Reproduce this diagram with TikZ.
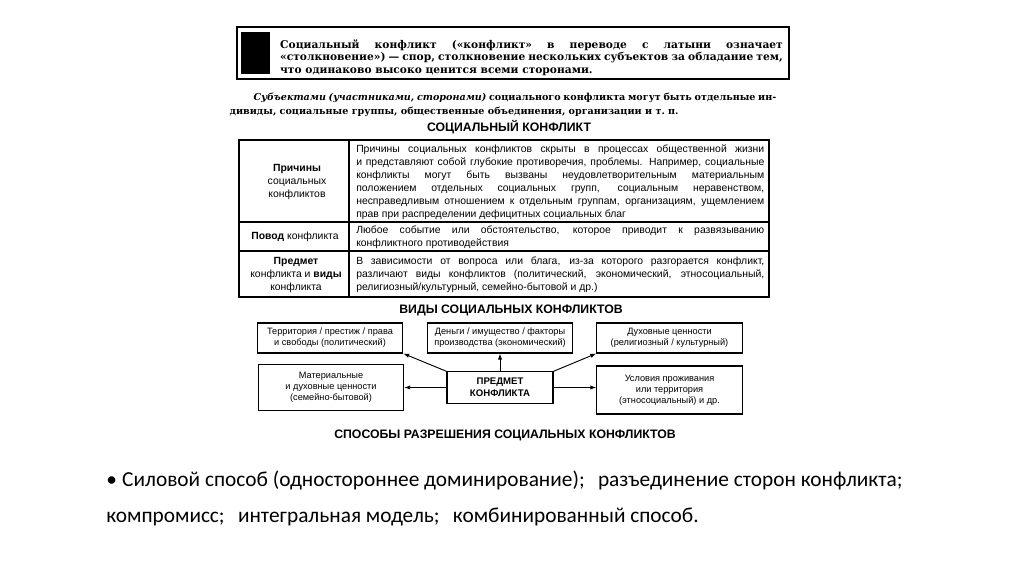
\documentclass[tikz,border=0pt]{standalone}
\usepackage{fontspec}
\setmainfont{Liberation Serif}
\setsansfont{Liberation Sans}
\newfontfamily\bookfont{DejaVu Serif}
\newfontfamily\slidefont{Carlito}
\usetikzlibrary{positioning, arrows.meta}

\begin{document}
\begin{tikzpicture}[x=0.75pt, y=-0.75pt,
    booktext/.style={font=\bookfont\fontsize{8}{9.4}\selectfont\bfseries, align=justify, inner sep=0pt},
    cellhead/.style={font=\sffamily\fontsize{7.8}{9.8}\selectfont, align=center, inner sep=0pt},
    celltext/.style={font=\sffamily\fontsize{7.8}{9.8}\selectfont, align=justify,
      text width=306pt, inner sep=0pt, anchor=west},
    heading/.style={font=\sffamily\bfseries\fontsize{9.2}{10}\selectfont, inner sep=0pt},
    kind/.style={draw, line width=0.8pt, font=\sffamily\fontsize{6.9}{8.2}\selectfont,
      align=center, inner sep=0pt, minimum width=109pt},
    arr/.style={-{Latex[length=4.5pt,width=3.2pt]}, line width=0.7pt},
  ]
  \fill[white] (0,0) rectangle (1024,574);
  \useasboundingbox (0,0) rectangle (1024,574);

  % definition box
  \draw[line width=1.5pt] (237,27) rectangle (789,79);
  \fill (241,32) rectangle (270,74);
  \node[booktext, text width=377pt] (deftext) at (531.5,57.5)
    {Социальный конфликт («конфликт» в~переводе с~латыни означает\linebreak
     «столкновение») — спор, столкновение нескольких субъектов за обладание тем,\linebreak
     что одинаково высоко ценится всеми сторонами.};
  \node[booktext, font=\bookfont\fontsize{7.2}{10.5}\selectfont\bfseries, text width=410pt] (subjects) at (503,105)
    {\hspace*{18pt}\textit{Субъектами (участниками, сторонами)} социального конфликта могут быть отдельные ин-\linebreak
     дивиды, социальные группы, общественные объединения, организации и~т.~п.};
  \node[heading] (title) at (509,127) {СОЦИАЛЬНЫЙ КОНФЛИКТ};

  % table
  \draw[line width=1.2pt] (239,140) rectangle (769,297);
  \draw[line width=0.8pt] (349,140) -- (349,297)
    (239,222) -- (769,222) (239,251) -- (769,251);
  \node[cellhead] (reasons) at (297,182) {\textbf{Причины}\\социальных\\конфликтов};
  \node[cellhead] (occasion) at (295,237) {\textbf{Повод} конфликта};
  \node[cellhead] (subject) at (296,275) {\textbf{Предмет}\\конфликта и \textbf{виды}\\конфликта};
  \node[celltext] (reasonstext) at (356,182)
    {Причины социальных конфликтов скрыты в процессах общественной жизни\linebreak
     и представляют собой глубокие противоречия, проблемы. Например, социальные\linebreak
     конфликты могут быть вызваны неудовлетворительным материальным\linebreak
     положением отдельных социальных групп, социальным неравенством,\linebreak
     несправедливым отношением к отдельным группам, организациям, ущемлением\linebreak
     прав при распределении дефицитных социальных благ};
  \node[celltext] (occasiontext) at (356,237)
    {Любое событие или обстоятельство, которое приводит к развязыванию\linebreak
     конфликтного противодействия};
  \node[celltext] (subjecttext) at (356,275)
    {В зависимости от вопроса или блага, из-за которого разгорается конфликт,\linebreak
     различают виды конфликтов (политический, экономический, этносоциальный,\linebreak
     религиозный/культурный, семейно-бытовой и др.)};

  % kinds of conflicts
  \node[heading] (kindstitle) at (511,310) {ВИДЫ СОЦИАЛЬНЫХ КОНФЛИКТОВ};
  \node[kind, minimum height=22.5pt] (political) at (330,338)
    {Территория / престиж / права\\и свободы (политический)};
  \node[kind, minimum height=22.5pt] (economic) at (500,338)
    {Деньги / имущество / факторы\\производства (экономический)};
  \node[kind, minimum height=22.5pt] (spiritual) at (669.5,338)
    {Духовные ценности\\(религиозный / культурный)};
  \node[kind, minimum height=34pt] (family) at (331,387.5)
    {Материальные\\и духовные ценности\\(семейно-бытовой)};
  \node[kind, minimum height=36pt] (ethnic) at (669.5,390)
    {Условия проживания\\или территория\\(этносоциальный) и др.};
  \node[kind, font=\sffamily\bfseries\fontsize{7.2}{9}\selectfont, minimum width=79.5pt,
    minimum height=23.5pt] (core) at (500,387.5) {ПРЕДМЕТ\\КОНФЛИКТА};
  \draw[arr] (core.north west) -- (political.south east);
  \draw[arr] (core.north) -- (economic.south);
  \draw[arr] (core.north east) -- (spiritual.south west);
  \draw[arr] (core.west) -- (family.east);
  \draw[arr] (core.east) -- (core.east -| ethnic.west);

  \node[heading] (waystitle) at (505,435) {СПОСОБЫ РАЗРЕШЕНИЯ СОЦИАЛЬНЫХ КОНФЛИКТОВ};

  % resolution methods
  \node[font=\slidefont\fontsize{16}{27}\selectfont, align=left, inner sep=0pt, anchor=west]
    (methods) at (106,498)
    {•\hspace{4pt}Силовой способ (одностороннее доминирование);\hspace{10pt}разъединение сторон конфликта;\\
     компромисс;\hspace{10pt}интегральная модель;\hspace{10pt}комбинированный способ.};
\end{tikzpicture}
\end{document}
